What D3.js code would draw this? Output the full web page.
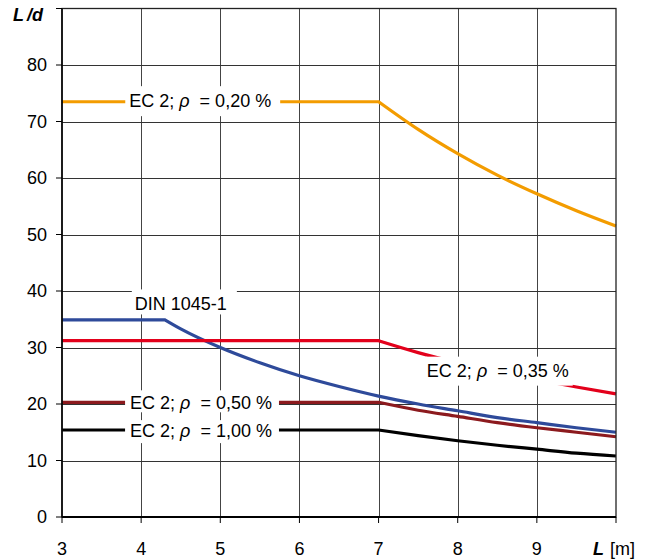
<!DOCTYPE html>
<html>
<head>
<meta charset="utf-8">
<script src="https://cdn.jsdelivr.net/npm/d3@7/dist/d3.min.js"></script>
<style>
  html, body { margin: 0; padding: 0; background: #fff; }
  svg { display: block; }
  text { font-family: "Liberation Sans", Arial, sans-serif; }
</style>
</head>
<body>
<svg id="chart" width="653" height="559"></svg>
<script>
// ---- data ----
const xTicks = [3, 4, 5, 6, 7, 8, 9];
const yTicks = [0, 10, 20, 30, 40, 50, 60, 70, 80];

const ecL = [3, 7, 7.5, 8, 8.5, 9, 9.5, 10];
const ec020 = [73.5, 73.5, 68.6, 64.3, 60.5, 57.2, 54.2, 51.5];
const ec035 = [31.2, 31.2, 29.1, 27.3, 25.7, 24.3, 23.0, 21.8];
const ec050 = [20.3, 20.3, 18.9, 17.8, 16.7, 15.8, 15.0, 14.2];
const ec100 = [15.4, 15.4, 14.4, 13.5, 12.7, 12.0, 11.3, 10.8];

const dinL = [3, 4.3, 4.5, 5, 5.5, 6, 6.5, 7, 7.5, 8, 8.5, 9, 9.5, 10];
const din = [34.9, 34.9, 33.3, 30.0, 27.3, 25.0, 23.1, 21.4, 20.0, 18.8, 17.6, 16.7, 15.8, 15.0];

const seriesNames = ["EC 2; ρ = 1,00 %", "EC 2; ρ = 0,50 %", "DIN 1045-1", "EC 2; ρ = 0,35 %", "EC 2; ρ = 0,20 %"];

// ---- layout ----
const svg = d3.select("#chart");
const x = d3.scaleLinear().domain([3, 10]).range([62, 616]);
const y = d3.scaleLinear().domain([0, 90]).range([517, 8.5]);

const series = [
  { name: seriesNames[0], xs: ecL, ys: ec100, color: "#000000" },
  { name: seriesNames[1], xs: ecL, ys: ec050, color: "#8c1a1e" },
  { name: seriesNames[2], xs: dinL, ys: din, color: "#2e4a9a" },
  { name: seriesNames[3], xs: ecL, ys: ec035, color: "#e3001b" },
  { name: seriesNames[4], xs: ecL, ys: ec020, color: "#f39c00" }
];

// grid
const grid = svg.append("g");
grid.selectAll("line.v").data(xTicks.slice(1)).join("line")
  .attr("x1", d => Math.round(x(d)) + 0.5).attr("x2", d => Math.round(x(d)) + 0.5)
  .attr("y1", y(90)).attr("y2", y(0))
  .attr("stroke", "#444").attr("stroke-width", 1);
grid.selectAll("line.h").data(yTicks.slice(1)).join("line")
  .attr("x1", x(3)).attr("x2", x(10))
  .attr("y1", d => Math.round(y(d)) + 0.5).attr("y2", d => Math.round(y(d)) + 0.5)
  .attr("stroke", "#333").attr("stroke-width", 1);

// lines: straight plateau up to the kink (2nd point), smooth curve after it
const curveLine = d3.line().curve(d3.curveMonotoneX)
  .x(d => x(d[0])).y(d => y(d[1]));
function pathFor(s) {
  const pts = s.xs.map((v, i) => [v, s.ys[i]]);
  const flat = "M" + x(pts[0][0]) + "," + y(pts[0][1]) + "L" + x(pts[1][0]) + "," + y(pts[1][1]);
  const rest = curveLine(pts.slice(1)).replace(/^M[^CLQ]*/, "");
  return flat + rest;
}
svg.append("g").selectAll("path").data(series).join("path")
  .attr("d", pathFor)
  .attr("fill", "none")
  .attr("stroke", s => s.color)
  .attr("stroke-width", 3.2)
  .attr("stroke-linejoin", "miter");

// labels (x, y in data units for text start / text middle; box in pixel paddings)
const labels = [
  { lx: 3.85, ly: 73.6, box: [-4, 9, 15, 15], name: seriesNames[4], ec: true },
  { lx: 7.61, ly: 25.9, box: [-1, 4, 14, 15], name: seriesNames[3], ec: true },
  { lx: 3.86, ly: 20.3, box: [-5, 7, 12, 10], name: seriesNames[1], ec: true },
  { lx: 3.86, ly: 15.2, box: [-5, 7, 11, 12], name: seriesNames[0], ec: true },
  { lx: 3.92, ly: 37.8, box: [-3, 10, 14, 11], name: seriesNames[2], ec: false }
];

const lg = svg.append("g");
labels.forEach(l => {
  const tx = x(l.lx), ty = y(l.ly);
  const g = lg.append("g");
  const rect = g.append("rect").attr("fill", "#fff");
  const t = g.append("text").attr("x", tx).attr("y", ty).attr("dy", "0.35em")
    .attr("font-size", 18).attr("fill", "#000");
  if (l.ec) {
    const parts = l.name.split("ρ");
    t.append("tspan").text(parts[0]);
    t.append("tspan").attr("font-style", "italic").text("ρ");
    t.append("tspan").text("\u00a0" + parts[1]);
  } else {
    t.text(l.name);
  }
  const w = t.node().getComputedTextLength();
  rect.attr("x", tx + l.box[0]).attr("width", w - l.box[0] + l.box[1])
    .attr("y", ty - l.box[2]).attr("height", l.box[2] + l.box[3]);
});

// frame & axes
const axisG = svg.append("g");
axisG.append("rect").attr("x", x(3)).attr("y", y(90))
  .attr("width", x(10) - x(3)).attr("height", y(0) - y(90))
  .attr("fill", "none").attr("stroke", "#222").attr("stroke-width", 1.3);
axisG.append("line").attr("x1", x(3)).attr("x2", x(10)).attr("y1", y(0)).attr("y2", y(0))
  .attr("stroke", "#000").attr("stroke-width", 1.8);
axisG.append("line").attr("x1", x(3)).attr("x2", x(3)).attr("y1", y(90)).attr("y2", y(0))
  .attr("stroke", "#000").attr("stroke-width", 1.5);

// y ticks
axisG.selectAll("line.yt").data(yTicks.concat([90])).join("line")
  .attr("x1", x(3) - 6).attr("x2", x(3))
  .attr("y1", d => y(d)).attr("y2", d => y(d))
  .attr("stroke", "#000").attr("stroke-width", 1);
axisG.selectAll("text.yl").data(yTicks).join("text")
  .attr("x", 47).attr("y", d => y(d)).attr("dy", "0.36em")
  .attr("text-anchor", "end").attr("font-size", 18).text(d => d);

// x ticks
axisG.selectAll("line.xt").data(xTicks.concat([10])).join("line")
  .attr("x1", d => x(d)).attr("x2", d => x(d))
  .attr("y1", y(0)).attr("y2", y(0) + 6)
  .attr("stroke", "#000").attr("stroke-width", 1);
axisG.selectAll("text.xl").data(xTicks).join("text")
  .attr("x", d => x(d)).attr("y", 555)
  .attr("text-anchor", "middle").attr("font-size", 18).text(d => d);

// axis titles
const yt = axisG.append("text").attr("x", 13).attr("y", 21).attr("font-size", 18)
  .attr("font-weight", "bold").attr("font-style", "italic");
yt.append("tspan").text("L");
yt.append("tspan").attr("dx", 3).text("/d");

const xt = axisG.append("text").attr("x", 593).attr("y", 555).attr("font-size", 18);
xt.append("tspan").attr("font-weight", "bold").attr("font-style", "italic").text("L");
xt.append("tspan").attr("dx", 6).text("[m]");
</script>
</body>
</html>
